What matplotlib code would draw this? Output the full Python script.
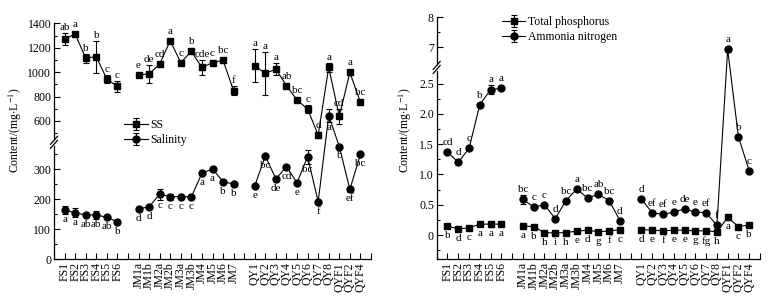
import numpy as np
import matplotlib
matplotlib.use("Agg")
import matplotlib.pyplot as plt
from matplotlib.lines import Line2D

plt.rcParams['font.family'] = ['Liberation Serif', 'DejaVu Serif']
plt.rcParams['mathtext.fontset'] = 'stix'

# ---------------- data ----------------
fs_sites = ['FS1', 'FS2', 'FS3', 'FS4', 'FS5', 'FS6']
jm_sites = ['JM1a', 'JM1b', 'JM2a', 'JM2b', 'JM3a', 'JM3b', 'JM4', 'JM5', 'JM6', 'JM7']
qy_sites = ['QY1', 'QY2', 'QY3', 'QY4', 'QY5', 'QY6', 'QY7', 'QY8', 'QYF1', 'QYF2', 'QYF4']

# left panel
ss = [1272, 1313, 1116, 1127, 944, 883,
      979, 985, 1067, 1258, 1078, 1170, 1039, 1078, 1097, 848,
      1053, 990, 1026, 889, 772, 698, 485, 1039, 637, 998, 752]
ss_err = [48, 15, 37, 130, 33, 48,
          12, 70, 10, 10, 10, 8, 64, 8, 8, 35,
          137, 175, 50, 10, 8, 33, 25, 40, 65, 10, 10]
ss_lab = ['ab', 'a', 'b', 'b', 'c', 'c',
          'e', 'de', 'cd', 'a', 'c', 'b', 'cde', 'c', 'bc', 'f',
          'a', 'a', 'a', 'ab', 'bc', 'c', 'd', 'a', 'cd', 'a', 'bc']
sal = [164, 155, 148, 148, 140, 125,
       168, 175, 217, 209, 209, 208, 287, 301, 259, 251,
       245, 344, 268, 309, 255, 342, 192, 643, 376, 233, 350]
sal_err = [13, 15, 5, 12, 5, 5,
           3, 3, 18, 10, 5, 5, 5, 5, 3, 3,
           3, 5, 3, 3, 3, 24, 5, 55, 5, 8, 3]
sal_lab = ['a', 'a', 'ab', 'ab', 'ab', 'b',
           'd', 'd', 'c', 'c', 'c', 'c', 'a', 'a', 'b', 'b',
           'e', 'bc', 'de', 'cd', 'e', 'bc', 'f', 'a', 'b', 'ef', 'bc']

# right panel
tp = [0.15, 0.10, 0.12, 0.18, 0.18, 0.18,
      0.15, 0.14, 0.04, 0.035, 0.04, 0.065, 0.08, 0.055, 0.065, 0.09,
      0.09, 0.08, 0.07, 0.08, 0.08, 0.07, 0.07, 0.055, 0.29, 0.14, 0.165]
tp_err = [0.01] * 27
tp_lab = ['b', 'd', 'c', 'a', 'a', 'a',
          'a', 'b', 'h', 'i', 'h', 'e', 'd', 'g', 'f', 'c',
          'd', 'e', 'f', 'e', 'e', 'g', 'fg', 'h', 'a', 'c', 'b']
nh = [1.37, 1.20, 1.43, 2.15, 2.40, 2.42,
      0.59, 0.46, 0.50, 0.27, 0.57, 0.76, 0.61, 0.67, 0.57, 0.24,
      0.59, 0.37, 0.34, 0.38, 0.43, 0.38, 0.37, 0.16, 6.92, 1.62, 1.06]
nh_err = [0.02, 0.02, 0.02, 0.02, 0.07, 0.03,
          0.07, 0.02, 0.02, 0.02, 0.02, 0.02, 0.02, 0.02, 0.02, 0.02,
          0.02, 0.02, 0.02, 0.02, 0.02, 0.02, 0.02, 0.02, 0.08, 0.02, 0.02]
nh_lab = ['cd', 'd', 'c', 'b', 'a', 'a',
          'bc', 'c', 'c', 'd', 'bc', 'a', 'bc', 'ab', 'bc', 'd',
          'd', 'ef', 'ef', 'e', 'de', 'e', 'ef', 'f', 'a', 'b', 'c']

# ---------------- layout ----------------
W, H = 782, 302
groups = [fs_sites, jm_sites, qy_sites]
pos_groups = []
p = 1
for g in groups:
    pos_groups.append(list(range(p, p + len(g))))
    p += len(g) + 1
all_pos = [x for pg in pos_groups for x in pg]
all_names = [n for g in groups for n in g]
xmax = p - 1


def make_scale(ymin, L, U, s_low, gap, s_up):
    a0 = (L - ymin) * s_low

    def fwd(v):
        v = np.asarray(v, dtype=float)
        return np.where(v <= L, (v - ymin) * s_low,
                        np.where(v <= U, a0 + (v - L) * gap / (U - L),
                                 a0 + gap + (v - U) * s_up))

    def inv(q):
        q = np.asarray(q, dtype=float)
        return np.where(q <= a0, ymin + q / s_low,
                        np.where(q <= a0 + gap, L + (q - a0) * (U - L) / gap,
                                 U + (q - a0 - gap) / s_up))
    return fwd, inv


fig = plt.figure(figsize=(W / 100, H / 100), dpi=100)

FS = 8.5
LFS = 8


def setup_axes(rect, ymin, L, U, ymax, s_low, gap, s_up, major, majlab, minor):
    ax = fig.add_axes(rect)
    fwd, inv = make_scale(ymin, L, U, s_low, gap, s_up)
    ax.set_yscale('function', functions=(fwd, inv))
    ax.set_ylim(ymin, ymax)
    ax.set_xlim(0, xmax)
    ax.spines['top'].set_visible(False)
    ax.spines['right'].set_visible(False)
    for s in ('left', 'bottom'):
        ax.spines[s].set_linewidth(0.9)
    ax.set_yticks(major)
    ax.set_yticklabels(majlab, fontsize=FS)
    ax.set_yticks(minor, minor=True)
    ax.set_yticklabels([], minor=True)
    xt = list(range(0, xmax + 1))
    xl = [''] * len(xt)
    for x, n in zip(all_pos, all_names):
        xl[x] = n
    ax.set_xticks(xt)
    ax.set_xticklabels(xl, rotation=90, fontsize=FS)
    ax.tick_params(axis='both', which='major', direction='in', length=4, width=0.8, pad=2)
    ax.tick_params(axis='y', which='minor', direction='in', length=2.5, width=0.8)
    ax.tick_params(axis='x', which='minor', bottom=False)
    # break marks
    bf = float(fwd(L) + gap / 2) / float(fwd(ymax))
    hpx = rect[3] * H
    wpx = rect[2] * W
    for dy in (-2.0, 2.0):
        ax.plot([-3.5 / wpx, 3.5 / wpx], [(dy - 4) / hpx + bf, (dy + 4) / hpx + bf],
                transform=ax.transAxes, color='k', lw=0.9, clip_on=False, zorder=5)
    ax.plot([0, 0], [bf - 1.5 / hpx, bf + 1.5 / hpx], transform=ax.transAxes,
            color='white', lw=2, clip_on=False, zorder=4)
    return ax, fwd


def draw_series(ax, fwd, vals, errs, labs, marker, label, side):
    for k, pg in enumerate(pos_groups):
        i0 = sum(len(g) for g in groups[:k])
        idx = list(range(i0, i0 + len(pg)))
        ax.errorbar(pg, [vals[i] for i in idx], yerr=[errs[i] for i in idx],
                    fmt='-' + marker, color='k', ms=5 if marker == 'o' else 4.5,
                    lw=0.8, elinewidth=0.8, capsize=2, capthick=0.8,
                    label=label if k == 0 else None, zorder=3)
    for x, v, e, t in zip(all_pos, vals, errs, labs):
        if side == 'above':
            epx = float(fwd(v + e) - fwd(v))
            off = (max(epx, 4) + 1.0) * 0.72
            ax.annotate(t, (x, v), xytext=(0, off), textcoords='offset points',
                        ha='center', va='bottom', fontsize=LFS)
        else:
            epx = float(fwd(v) - fwd(v - e))
            off = (max(epx, 4) + 1.0) * 0.72
            ax.annotate(t, (x, v), xytext=(0, -off), textcoords='offset points',
                        ha='center', va='top', fontsize=LFS)


# left panel
axL, fL = setup_axes([54 / W, 42.7 / H, 317 / W, 235.9 / H],
                     0, 380, 450, 1400, 0.3, 6, 0.122,
                     [0, 100, 200, 300, 600, 800, 1000, 1200, 1400],
                     ['0', '100', '200', '300', '600', '800', '1000', '1200', '1400'],
                     [50, 150, 250, 350, 500, 700, 900, 1100, 1300])
draw_series(axL, fL, ss, ss_err, ss_lab, 's', 'SS', 'above')
draw_series(axL, fL, sal, sal_err, sal_lab, 'o', 'Salinity', 'below')
axL.legend(loc='upper left', bbox_to_anchor=(124 / W, 1 - 119 / H),
           bbox_transform=fig.transFigure, frameon=False, fontsize=FS,
           handlelength=2.0, handletextpad=0.2, borderpad=0, borderaxespad=0,
           labelspacing=0.25)

# right panel
axR, fR = setup_axes([436.7 / W, 42.7 / H, 323.3 / W, 241.9 / H],
                     -0.4, 2.75, 6.35, 8, 60.6, 2, 29.7,
                     [0, 0.5, 1.0, 1.5, 2.0, 2.5, 7, 8],
                     ['0', '0.5', '1.0', '1.5', '2.0', '2.5', '7', '8'],
                     [-0.25, 0.25, 0.75, 1.25, 1.75, 2.25, 7.5])
draw_series(axR, fR, tp, tp_err, tp_lab, 's', 'Total phosphorus', 'below')
draw_series(axR, fR, nh, nh_err, nh_lab, 'o', 'Ammonia nitrogen', 'above')
axR.legend(loc='upper left', bbox_to_anchor=(501.7 / W, 1 - 16 / H),
           bbox_transform=fig.transFigure, frameon=False, fontsize=FS,
           handlelength=2.0, handletextpad=0.2, borderpad=0, borderaxespad=0,
           labelspacing=0.25)

ylab = 'Content/(mg$\\cdot$L$^{-1}$)'
fig.text(15 / W, 1 - 130 / H, ylab, rotation=90, ha='center', va='center', fontsize=FS)
fig.text(405 / W, 1 - 130 / H, ylab, rotation=90, ha='center', va='center', fontsize=FS)

fig.savefig('out.png', dpi=100)
